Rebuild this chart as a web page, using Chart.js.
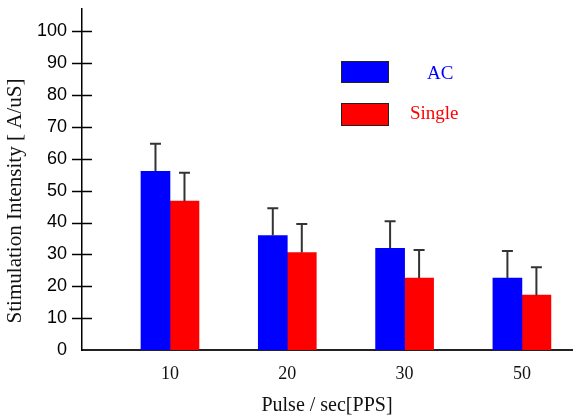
<!DOCTYPE html>
<html>
<head>
<meta charset="utf-8">
<script src="https://cdn.jsdelivr.net/npm/chart.js@4.4.1/dist/chart.umd.min.js"></script>
<style>
  html, body { margin: 0; padding: 0; background: #fff; }
  #wrap { width: 573px; height: 419px; }
</style>
</head>
<body>
<div id="wrap"><canvas id="stimChart"></canvas></div>
<script>
// values (bar tops and upper error whiskers)
const pulseRates = ['10', '20', '30', '50'];
const acValues = [56.1, 35.9, 31.9, 22.6];
const acErrors = [8.6, 8.6, 8.5, 8.5];
const singleValues = [46.7, 30.6, 22.6, 17.2];
const singleErrors = [8.9, 8.9, 8.8, 8.8];
const yTickValues = [0, 10, 20, 30, 40, 50, 60, 70, 80, 90, 100];

const serif = '"Liberation Serif", "Times New Roman", serif';
const sans = '"Liberation Sans", Arial, sans-serif';

// short tick marks crossing the y axis
const yTickMarks = {
    id: 'yTickMarks',
    afterDraw(chart) {
        const { ctx, chartArea, scales } = chart;
        ctx.save();
        ctx.strokeStyle = '#000';
        ctx.lineWidth = 1.5;
        scales.y.ticks.forEach(t => {
            if (t.value === 0) return;
            const py = Math.round(scales.y.getPixelForValue(t.value)) + 0.5;
            ctx.beginPath();
            ctx.moveTo(chartArea.left - 10, py);
            ctx.lineTo(chartArea.left + 10, py);
            ctx.stroke();
        });
        ctx.restore();
    }
};

// upper error whiskers only
const errorBars = {
    id: 'errorBars',
    afterDatasetsDraw(chart) {
        const { ctx, scales } = chart;
        ctx.save();
        ctx.strokeStyle = '#333';
        ctx.lineWidth = 2;
        chart.data.datasets.forEach((ds, di) => {
            const meta = chart.getDatasetMeta(di);
            meta.data.forEach((bar, i) => {
                const top = scales.y.getPixelForValue(ds.data[i].y + ds.errors[i]);
                ctx.beginPath();
                ctx.moveTo(bar.x, bar.y);
                ctx.lineTo(bar.x, top);
                ctx.moveTo(bar.x - 5.5, top);
                ctx.lineTo(bar.x + 5.5, top);
                ctx.stroke();
            });
        });
        ctx.restore();
    }
};

// legend boxes with labels to the right, plus rotated y title
const sideText = {
    id: 'sideText',
    afterDraw(chart) {
        const { ctx } = chart;
        ctx.save();
        const rows = [
            { box: [341, 61, 47, 21], tx: 427, ty: 79 },
            { box: [341, 103, 47, 22], tx: 410, ty: 119 }
        ];
        chart.data.datasets.forEach((ds, i) => {
            const r = rows[i];
            ctx.fillStyle = ds.backgroundColor;
            ctx.fillRect(...r.box);
            ctx.strokeStyle = '#222';
            ctx.lineWidth = 1;
            ctx.strokeRect(r.box[0] + 0.5, r.box[1] + 0.5, r.box[2], r.box[3]);
            ctx.font = '19px ' + serif;
            ctx.textAlign = 'left';
            ctx.textBaseline = 'alphabetic';
            ctx.fillText(ds.label, r.tx, r.ty);
        });

        ctx.translate(16, 201);
        ctx.rotate(-Math.PI / 2);
        ctx.font = '20px ' + serif;
        ctx.fillStyle = '#111';
        ctx.textAlign = 'center';
        ctx.textBaseline = 'middle';
        const title = 'Stimulation Intensity [ A/uS]';
        const w = ctx.measureText(title).width;
        ctx.scale(245 / w, 1);
        ctx.fillText(title, 0, 0);
        ctx.restore();
    }
};

const ctx = document.getElementById('stimChart').getContext('2d');
const stimChart = new Chart(ctx, {
    type: 'bar',
    data: {
        datasets: [{
            label: 'AC',
            data: acValues.map((v, i) => ({ x: i, y: v })),
            errors: acErrors,
            backgroundColor: '#0000ff'
        }, {
            label: 'Single',
            data: singleValues.map((v, i) => ({ x: i, y: v })),
            errors: singleErrors,
            backgroundColor: '#ff0000'
        }]
    },
    options: {
        responsive: true,
        maintainAspectRatio: false,
        animation: false,
        layout: { padding: { top: 9, right: 1, left: 0, bottom: 0 } },
        datasets: { bar: { barThickness: 29, grouped: true } },
        plugins: {
            legend: { display: false },
            tooltip: { enabled: false }
        },
        scales: {
            x: {
                type: 'linear',
                min: -0.75,
                max: 3.427,
                offset: false,
                grid: { display: false, drawTicks: false },
                border: { display: true, color: '#222', width: 2 },
                afterBuildTicks: scale => {
                    scale.ticks = pulseRates.map((_, i) => ({ value: i }));
                },
                afterFit: scale => {
                    scale.height = 69;
                    scale.paddingLeft = 0;
                    scale.paddingRight = 0;
                },
                ticks: {
                    autoSkip: false,
                    maxRotation: 0,
                    padding: 13,
                    color: '#111',
                    font: { family: serif, size: 18 },
                    callback: v => pulseRates[v]
                },
                title: {
                    display: true,
                    text: 'Pulse / sec[PPS]',
                    color: '#111',
                    font: { family: serif, size: 20 },
                    padding: { top: 0, bottom: 1 }
                }
            },
            y: {
                min: 0,
                max: 107,
                grid: { display: false, drawTicks: false },
                border: { display: true, color: '#000', width: 1.5 },
                afterBuildTicks: scale => {
                    scale.ticks = yTickValues.map(v => ({ value: v }));
                },
                afterFit: scale => {
                    scale.width = 82;
                    scale.paddingTop = 0;
                    scale.paddingBottom = 0;
                },
                ticks: {
                    padding: 15,
                    color: '#000',
                    font: { family: sans, size: 18 }
                }
            }
        }
    },
    plugins: [yTickMarks, errorBars, sideText]
});
</script>
</body>
</html>
